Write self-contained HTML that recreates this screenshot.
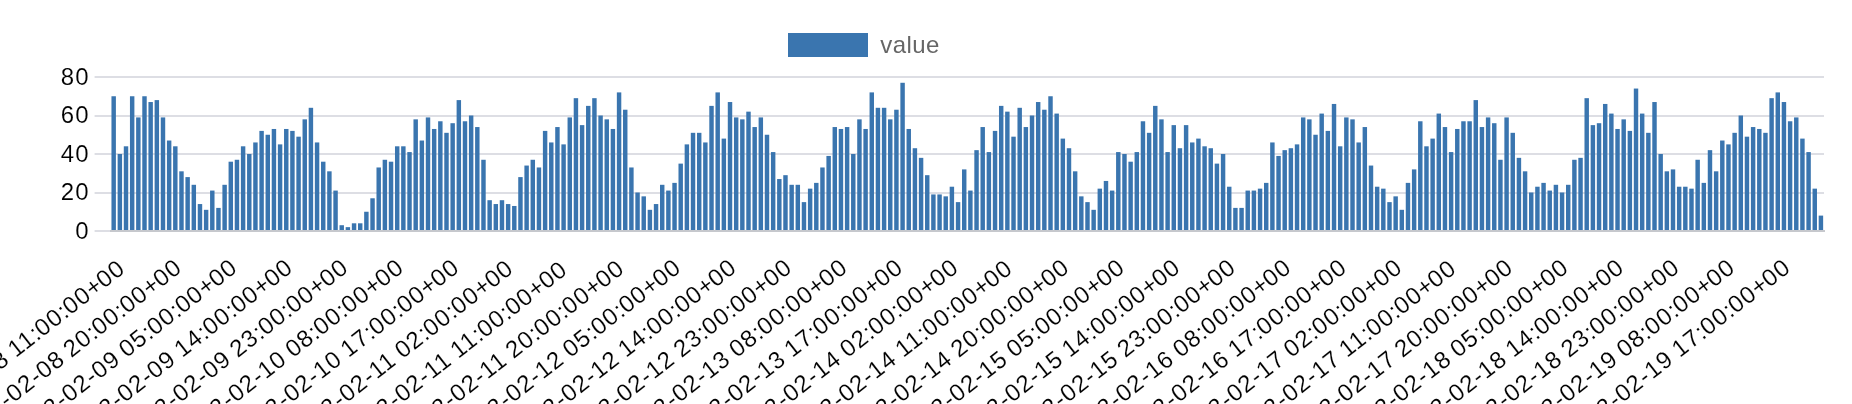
<!DOCTYPE html><html><head><meta charset="utf-8"><title>chart</title><style>html,body{margin:0;padding:0;background:#fff;overflow:hidden}svg{display:block}text{font-family:"Liberation Sans",sans-serif;font-size:24px}svg{will-change:transform;opacity:0.999}.d{letter-spacing:1.0px}.t{stroke:#fff;stroke-width:0.12px}</style></head><body>
<svg width="1852" height="404" viewBox="0 0 1852 404">
<rect width="1852" height="404" fill="#fff"/>
<rect x="94.60" y="76.00" width="1729.40" height="2" fill="#dddee4"/>
<rect x="94.60" y="115.00" width="1729.40" height="2" fill="#dddee4"/>
<rect x="94.60" y="153.00" width="1729.40" height="2" fill="#dddee4"/>
<rect x="94.60" y="192.00" width="1729.40" height="2" fill="#dddee4"/>
<text x="89.50" y="84.90" text-anchor="end" class="d t" fill="#000">80</text>
<text x="89.50" y="123.40" text-anchor="end" class="d t" fill="#000">60</text>
<text x="89.50" y="161.90" text-anchor="end" class="d t" fill="#000">40</text>
<text x="89.50" y="200.40" text-anchor="end" class="d t" fill="#000">20</text>
<text x="89.50" y="238.90" text-anchor="end" class="d t" fill="#000">0</text>
<g fill="#3a75af">
<rect x="111.46" y="96.25" width="4.44" height="134.75"/>
<rect x="117.63" y="154.00" width="4.44" height="77.00"/>
<rect x="123.79" y="146.30" width="4.44" height="84.70"/>
<rect x="129.95" y="96.25" width="4.44" height="134.75"/>
<rect x="136.12" y="117.42" width="4.44" height="113.58"/>
<rect x="142.28" y="96.25" width="4.44" height="134.75"/>
<rect x="148.44" y="102.03" width="4.44" height="128.97"/>
<rect x="154.61" y="100.10" width="4.44" height="130.90"/>
<rect x="160.77" y="117.42" width="4.44" height="113.58"/>
<rect x="166.93" y="140.52" width="4.44" height="90.48"/>
<rect x="173.10" y="146.30" width="4.44" height="84.70"/>
<rect x="179.26" y="171.32" width="4.44" height="59.68"/>
<rect x="185.42" y="177.10" width="4.44" height="53.90"/>
<rect x="191.59" y="184.80" width="4.44" height="46.20"/>
<rect x="197.75" y="204.05" width="4.44" height="26.95"/>
<rect x="203.91" y="209.82" width="4.44" height="21.18"/>
<rect x="210.08" y="190.57" width="4.44" height="40.43"/>
<rect x="216.24" y="207.90" width="4.44" height="23.10"/>
<rect x="222.40" y="184.80" width="4.44" height="46.20"/>
<rect x="228.57" y="161.70" width="4.44" height="69.30"/>
<rect x="234.73" y="159.77" width="4.44" height="71.23"/>
<rect x="240.89" y="146.30" width="4.44" height="84.70"/>
<rect x="247.06" y="154.00" width="4.44" height="77.00"/>
<rect x="253.22" y="142.45" width="4.44" height="88.55"/>
<rect x="259.38" y="130.90" width="4.44" height="100.10"/>
<rect x="265.55" y="134.75" width="4.44" height="96.25"/>
<rect x="271.71" y="128.97" width="4.44" height="102.03"/>
<rect x="277.87" y="144.38" width="4.44" height="86.62"/>
<rect x="284.04" y="128.97" width="4.44" height="102.03"/>
<rect x="290.20" y="130.90" width="4.44" height="100.10"/>
<rect x="296.36" y="136.68" width="4.44" height="94.33"/>
<rect x="302.53" y="119.35" width="4.44" height="111.65"/>
<rect x="308.69" y="107.80" width="4.44" height="123.20"/>
<rect x="314.85" y="142.45" width="4.44" height="88.55"/>
<rect x="321.02" y="161.70" width="4.44" height="69.30"/>
<rect x="327.18" y="171.32" width="4.44" height="59.68"/>
<rect x="333.34" y="190.57" width="4.44" height="40.43"/>
<rect x="339.51" y="225.22" width="4.44" height="5.78"/>
<rect x="345.67" y="227.15" width="4.44" height="3.85"/>
<rect x="351.83" y="223.30" width="4.44" height="7.70"/>
<rect x="358.00" y="223.30" width="4.44" height="7.70"/>
<rect x="364.16" y="211.75" width="4.44" height="19.25"/>
<rect x="370.32" y="198.28" width="4.44" height="32.73"/>
<rect x="376.49" y="167.47" width="4.44" height="63.52"/>
<rect x="382.65" y="159.77" width="4.44" height="71.23"/>
<rect x="388.81" y="161.70" width="4.44" height="69.30"/>
<rect x="394.98" y="146.30" width="4.44" height="84.70"/>
<rect x="401.14" y="146.30" width="4.44" height="84.70"/>
<rect x="407.30" y="152.07" width="4.44" height="78.92"/>
<rect x="413.47" y="119.35" width="4.44" height="111.65"/>
<rect x="419.63" y="140.52" width="4.44" height="90.48"/>
<rect x="425.79" y="117.42" width="4.44" height="113.58"/>
<rect x="431.95" y="128.97" width="4.44" height="102.03"/>
<rect x="438.12" y="121.27" width="4.44" height="109.73"/>
<rect x="444.28" y="132.82" width="4.44" height="98.17"/>
<rect x="450.44" y="123.20" width="4.44" height="107.80"/>
<rect x="456.61" y="100.10" width="4.44" height="130.90"/>
<rect x="462.77" y="121.27" width="4.44" height="109.73"/>
<rect x="468.93" y="115.50" width="4.44" height="115.50"/>
<rect x="475.10" y="127.05" width="4.44" height="103.95"/>
<rect x="481.26" y="159.77" width="4.44" height="71.23"/>
<rect x="487.42" y="200.20" width="4.44" height="30.80"/>
<rect x="493.59" y="204.05" width="4.44" height="26.95"/>
<rect x="499.75" y="200.20" width="4.44" height="30.80"/>
<rect x="505.91" y="204.05" width="4.44" height="26.95"/>
<rect x="512.08" y="205.97" width="4.44" height="25.03"/>
<rect x="518.24" y="177.10" width="4.44" height="53.90"/>
<rect x="524.40" y="165.55" width="4.44" height="65.45"/>
<rect x="530.57" y="159.77" width="4.44" height="71.23"/>
<rect x="536.73" y="167.47" width="4.44" height="63.52"/>
<rect x="542.89" y="130.90" width="4.44" height="100.10"/>
<rect x="549.06" y="142.45" width="4.44" height="88.55"/>
<rect x="555.22" y="127.05" width="4.44" height="103.95"/>
<rect x="561.38" y="144.38" width="4.44" height="86.62"/>
<rect x="567.55" y="117.42" width="4.44" height="113.58"/>
<rect x="573.71" y="98.17" width="4.44" height="132.83"/>
<rect x="579.87" y="125.12" width="4.44" height="105.88"/>
<rect x="586.04" y="105.88" width="4.44" height="125.12"/>
<rect x="592.20" y="98.17" width="4.44" height="132.83"/>
<rect x="598.36" y="115.50" width="4.44" height="115.50"/>
<rect x="604.53" y="119.35" width="4.44" height="111.65"/>
<rect x="610.69" y="128.97" width="4.44" height="102.03"/>
<rect x="616.85" y="92.40" width="4.44" height="138.60"/>
<rect x="623.02" y="109.72" width="4.44" height="121.28"/>
<rect x="629.18" y="167.47" width="4.44" height="63.52"/>
<rect x="635.34" y="192.50" width="4.44" height="38.50"/>
<rect x="641.51" y="196.35" width="4.44" height="34.65"/>
<rect x="647.67" y="209.82" width="4.44" height="21.18"/>
<rect x="653.83" y="204.05" width="4.44" height="26.95"/>
<rect x="660.00" y="184.80" width="4.44" height="46.20"/>
<rect x="666.16" y="190.57" width="4.44" height="40.43"/>
<rect x="672.32" y="182.88" width="4.44" height="48.12"/>
<rect x="678.49" y="163.62" width="4.44" height="67.38"/>
<rect x="684.65" y="144.38" width="4.44" height="86.62"/>
<rect x="690.81" y="132.82" width="4.44" height="98.17"/>
<rect x="696.98" y="132.82" width="4.44" height="98.17"/>
<rect x="703.14" y="142.45" width="4.44" height="88.55"/>
<rect x="709.30" y="105.88" width="4.44" height="125.12"/>
<rect x="715.47" y="92.40" width="4.44" height="138.60"/>
<rect x="721.63" y="138.60" width="4.44" height="92.40"/>
<rect x="727.79" y="102.03" width="4.44" height="128.97"/>
<rect x="733.96" y="117.42" width="4.44" height="113.58"/>
<rect x="740.12" y="119.35" width="4.44" height="111.65"/>
<rect x="746.28" y="111.65" width="4.44" height="119.35"/>
<rect x="752.45" y="127.05" width="4.44" height="103.95"/>
<rect x="758.61" y="117.42" width="4.44" height="113.58"/>
<rect x="764.77" y="134.75" width="4.44" height="96.25"/>
<rect x="770.94" y="152.07" width="4.44" height="78.92"/>
<rect x="777.10" y="179.03" width="4.44" height="51.98"/>
<rect x="783.26" y="175.18" width="4.44" height="55.83"/>
<rect x="789.43" y="184.80" width="4.44" height="46.20"/>
<rect x="795.59" y="184.80" width="4.44" height="46.20"/>
<rect x="801.75" y="202.12" width="4.44" height="28.88"/>
<rect x="807.92" y="188.65" width="4.44" height="42.35"/>
<rect x="814.08" y="182.88" width="4.44" height="48.12"/>
<rect x="820.24" y="167.47" width="4.44" height="63.52"/>
<rect x="826.41" y="155.93" width="4.44" height="75.08"/>
<rect x="832.57" y="127.05" width="4.44" height="103.95"/>
<rect x="838.73" y="128.97" width="4.44" height="102.03"/>
<rect x="844.90" y="127.05" width="4.44" height="103.95"/>
<rect x="851.06" y="154.00" width="4.44" height="77.00"/>
<rect x="857.22" y="119.35" width="4.44" height="111.65"/>
<rect x="863.39" y="128.97" width="4.44" height="102.03"/>
<rect x="869.55" y="92.40" width="4.44" height="138.60"/>
<rect x="875.71" y="107.80" width="4.44" height="123.20"/>
<rect x="881.88" y="107.80" width="4.44" height="123.20"/>
<rect x="888.04" y="119.35" width="4.44" height="111.65"/>
<rect x="894.20" y="109.72" width="4.44" height="121.28"/>
<rect x="900.37" y="82.78" width="4.44" height="148.22"/>
<rect x="906.53" y="128.97" width="4.44" height="102.03"/>
<rect x="912.69" y="148.22" width="4.44" height="82.78"/>
<rect x="918.86" y="157.85" width="4.44" height="73.15"/>
<rect x="925.02" y="175.18" width="4.44" height="55.83"/>
<rect x="931.18" y="194.43" width="4.44" height="36.58"/>
<rect x="937.35" y="194.43" width="4.44" height="36.58"/>
<rect x="943.51" y="196.35" width="4.44" height="34.65"/>
<rect x="949.67" y="186.72" width="4.44" height="44.27"/>
<rect x="955.84" y="202.12" width="4.44" height="28.88"/>
<rect x="962.00" y="169.40" width="4.44" height="61.60"/>
<rect x="968.16" y="190.57" width="4.44" height="40.43"/>
<rect x="974.33" y="150.15" width="4.44" height="80.85"/>
<rect x="980.49" y="127.05" width="4.44" height="103.95"/>
<rect x="986.65" y="152.07" width="4.44" height="78.92"/>
<rect x="992.82" y="130.90" width="4.44" height="100.10"/>
<rect x="998.98" y="105.88" width="4.44" height="125.12"/>
<rect x="1005.14" y="111.65" width="4.44" height="119.35"/>
<rect x="1011.31" y="136.68" width="4.44" height="94.33"/>
<rect x="1017.47" y="107.80" width="4.44" height="123.20"/>
<rect x="1023.63" y="127.05" width="4.44" height="103.95"/>
<rect x="1029.80" y="115.50" width="4.44" height="115.50"/>
<rect x="1035.96" y="102.03" width="4.44" height="128.97"/>
<rect x="1042.12" y="109.72" width="4.44" height="121.28"/>
<rect x="1048.29" y="96.25" width="4.44" height="134.75"/>
<rect x="1054.45" y="113.58" width="4.44" height="117.42"/>
<rect x="1060.61" y="138.60" width="4.44" height="92.40"/>
<rect x="1066.78" y="148.22" width="4.44" height="82.78"/>
<rect x="1072.94" y="171.32" width="4.44" height="59.68"/>
<rect x="1079.10" y="196.35" width="4.44" height="34.65"/>
<rect x="1085.27" y="202.12" width="4.44" height="28.88"/>
<rect x="1091.43" y="209.82" width="4.44" height="21.18"/>
<rect x="1097.59" y="188.65" width="4.44" height="42.35"/>
<rect x="1103.76" y="180.95" width="4.44" height="50.05"/>
<rect x="1109.92" y="190.57" width="4.44" height="40.43"/>
<rect x="1116.08" y="152.07" width="4.44" height="78.92"/>
<rect x="1122.25" y="154.00" width="4.44" height="77.00"/>
<rect x="1128.41" y="161.70" width="4.44" height="69.30"/>
<rect x="1134.57" y="152.07" width="4.44" height="78.92"/>
<rect x="1140.74" y="121.27" width="4.44" height="109.73"/>
<rect x="1146.90" y="132.82" width="4.44" height="98.17"/>
<rect x="1153.06" y="105.88" width="4.44" height="125.12"/>
<rect x="1159.23" y="119.35" width="4.44" height="111.65"/>
<rect x="1165.39" y="152.07" width="4.44" height="78.92"/>
<rect x="1171.55" y="125.12" width="4.44" height="105.88"/>
<rect x="1177.72" y="148.22" width="4.44" height="82.78"/>
<rect x="1183.88" y="125.12" width="4.44" height="105.88"/>
<rect x="1190.04" y="142.45" width="4.44" height="88.55"/>
<rect x="1196.21" y="138.60" width="4.44" height="92.40"/>
<rect x="1202.37" y="146.30" width="4.44" height="84.70"/>
<rect x="1208.53" y="148.22" width="4.44" height="82.78"/>
<rect x="1214.70" y="163.62" width="4.44" height="67.38"/>
<rect x="1220.86" y="154.00" width="4.44" height="77.00"/>
<rect x="1227.02" y="186.72" width="4.44" height="44.27"/>
<rect x="1233.19" y="207.90" width="4.44" height="23.10"/>
<rect x="1239.35" y="207.90" width="4.44" height="23.10"/>
<rect x="1245.51" y="190.57" width="4.44" height="40.43"/>
<rect x="1251.68" y="190.57" width="4.44" height="40.43"/>
<rect x="1257.84" y="188.65" width="4.44" height="42.35"/>
<rect x="1264.00" y="182.88" width="4.44" height="48.12"/>
<rect x="1270.17" y="142.45" width="4.44" height="88.55"/>
<rect x="1276.33" y="155.93" width="4.44" height="75.08"/>
<rect x="1282.49" y="150.15" width="4.44" height="80.85"/>
<rect x="1288.65" y="148.22" width="4.44" height="82.78"/>
<rect x="1294.82" y="144.38" width="4.44" height="86.62"/>
<rect x="1300.98" y="117.42" width="4.44" height="113.58"/>
<rect x="1307.14" y="119.35" width="4.44" height="111.65"/>
<rect x="1313.31" y="134.75" width="4.44" height="96.25"/>
<rect x="1319.47" y="113.58" width="4.44" height="117.42"/>
<rect x="1325.63" y="130.90" width="4.44" height="100.10"/>
<rect x="1331.80" y="103.95" width="4.44" height="127.05"/>
<rect x="1337.96" y="146.30" width="4.44" height="84.70"/>
<rect x="1344.12" y="117.42" width="4.44" height="113.58"/>
<rect x="1350.29" y="119.35" width="4.44" height="111.65"/>
<rect x="1356.45" y="142.45" width="4.44" height="88.55"/>
<rect x="1362.61" y="127.05" width="4.44" height="103.95"/>
<rect x="1368.78" y="165.55" width="4.44" height="65.45"/>
<rect x="1374.94" y="186.72" width="4.44" height="44.27"/>
<rect x="1381.10" y="188.65" width="4.44" height="42.35"/>
<rect x="1387.27" y="202.12" width="4.44" height="28.88"/>
<rect x="1393.43" y="196.35" width="4.44" height="34.65"/>
<rect x="1399.59" y="209.82" width="4.44" height="21.18"/>
<rect x="1405.76" y="182.88" width="4.44" height="48.12"/>
<rect x="1411.92" y="169.40" width="4.44" height="61.60"/>
<rect x="1418.08" y="121.27" width="4.44" height="109.73"/>
<rect x="1424.25" y="146.30" width="4.44" height="84.70"/>
<rect x="1430.41" y="138.60" width="4.44" height="92.40"/>
<rect x="1436.57" y="113.58" width="4.44" height="117.42"/>
<rect x="1442.74" y="127.05" width="4.44" height="103.95"/>
<rect x="1448.90" y="152.07" width="4.44" height="78.92"/>
<rect x="1455.06" y="128.97" width="4.44" height="102.03"/>
<rect x="1461.23" y="121.27" width="4.44" height="109.73"/>
<rect x="1467.39" y="121.27" width="4.44" height="109.73"/>
<rect x="1473.55" y="100.10" width="4.44" height="130.90"/>
<rect x="1479.72" y="127.05" width="4.44" height="103.95"/>
<rect x="1485.88" y="117.42" width="4.44" height="113.58"/>
<rect x="1492.04" y="123.20" width="4.44" height="107.80"/>
<rect x="1498.21" y="159.77" width="4.44" height="71.23"/>
<rect x="1504.37" y="117.42" width="4.44" height="113.58"/>
<rect x="1510.53" y="132.82" width="4.44" height="98.17"/>
<rect x="1516.70" y="157.85" width="4.44" height="73.15"/>
<rect x="1522.86" y="171.32" width="4.44" height="59.68"/>
<rect x="1529.02" y="192.50" width="4.44" height="38.50"/>
<rect x="1535.19" y="186.72" width="4.44" height="44.27"/>
<rect x="1541.35" y="182.88" width="4.44" height="48.12"/>
<rect x="1547.51" y="190.57" width="4.44" height="40.43"/>
<rect x="1553.68" y="184.80" width="4.44" height="46.20"/>
<rect x="1559.84" y="192.50" width="4.44" height="38.50"/>
<rect x="1566.00" y="184.80" width="4.44" height="46.20"/>
<rect x="1572.17" y="159.77" width="4.44" height="71.23"/>
<rect x="1578.33" y="157.85" width="4.44" height="73.15"/>
<rect x="1584.49" y="98.17" width="4.44" height="132.83"/>
<rect x="1590.66" y="125.12" width="4.44" height="105.88"/>
<rect x="1596.82" y="123.20" width="4.44" height="107.80"/>
<rect x="1602.98" y="103.95" width="4.44" height="127.05"/>
<rect x="1609.15" y="113.58" width="4.44" height="117.42"/>
<rect x="1615.31" y="128.97" width="4.44" height="102.03"/>
<rect x="1621.47" y="119.35" width="4.44" height="111.65"/>
<rect x="1627.64" y="130.90" width="4.44" height="100.10"/>
<rect x="1633.80" y="88.55" width="4.44" height="142.45"/>
<rect x="1639.96" y="113.58" width="4.44" height="117.42"/>
<rect x="1646.13" y="132.82" width="4.44" height="98.17"/>
<rect x="1652.29" y="102.03" width="4.44" height="128.97"/>
<rect x="1658.45" y="154.00" width="4.44" height="77.00"/>
<rect x="1664.62" y="171.32" width="4.44" height="59.68"/>
<rect x="1670.78" y="169.40" width="4.44" height="61.60"/>
<rect x="1676.94" y="186.72" width="4.44" height="44.27"/>
<rect x="1683.11" y="186.72" width="4.44" height="44.27"/>
<rect x="1689.27" y="188.65" width="4.44" height="42.35"/>
<rect x="1695.43" y="159.77" width="4.44" height="71.23"/>
<rect x="1701.60" y="182.88" width="4.44" height="48.12"/>
<rect x="1707.76" y="150.15" width="4.44" height="80.85"/>
<rect x="1713.92" y="171.32" width="4.44" height="59.68"/>
<rect x="1720.09" y="140.52" width="4.44" height="90.48"/>
<rect x="1726.25" y="144.38" width="4.44" height="86.62"/>
<rect x="1732.41" y="132.82" width="4.44" height="98.17"/>
<rect x="1738.58" y="115.50" width="4.44" height="115.50"/>
<rect x="1744.74" y="136.68" width="4.44" height="94.33"/>
<rect x="1750.90" y="127.05" width="4.44" height="103.95"/>
<rect x="1757.07" y="128.97" width="4.44" height="102.03"/>
<rect x="1763.23" y="132.82" width="4.44" height="98.17"/>
<rect x="1769.39" y="98.17" width="4.44" height="132.83"/>
<rect x="1775.56" y="92.40" width="4.44" height="138.60"/>
<rect x="1781.72" y="102.03" width="4.44" height="128.97"/>
<rect x="1787.88" y="121.27" width="4.44" height="109.73"/>
<rect x="1794.05" y="117.42" width="4.44" height="113.58"/>
<rect x="1800.21" y="138.60" width="4.44" height="92.40"/>
<rect x="1806.37" y="152.07" width="4.44" height="78.92"/>
<rect x="1812.54" y="188.65" width="4.44" height="42.35"/>
<rect x="1818.70" y="215.60" width="4.44" height="15.40"/>
</g>
<rect x="94.60" y="230" width="16" height="2" fill="#dddee4"/>
<rect x="110.00" y="230" width="1715.00" height="2" fill="#c6c8cd"/>
<rect x="788" y="33" width="80" height="24" fill="#3a75af"/>
<text x="880.3" y="53.2" style="letter-spacing:0.45px;stroke:#fff;stroke-width:0.0px" fill="#666">value</text>
<text transform="translate(127.19,270.86) rotate(-38.1)" x="-280.87" dx="0 1.08 1.08 1.08 1.08 0.90 1.08 1.08 0.90 1.08 1.08 -0.70 1.08 1.08 0.00 1.08 1.08 0.00 1.08 1.08 0.00 1.08" class="t" fill="#000">2022-02-08 11:00:00+00</text>
<text transform="translate(182.66,270.86) rotate(-38.1)" x="-280.87" dx="0 1.08 1.08 1.08 1.08 0.90 1.08 1.08 0.90 1.08 1.08 -0.70 1.08 1.08 0.00 1.08 1.08 0.00 1.08 1.08 0.00 1.08" class="t" fill="#000">2022-02-08 20:00:00+00</text>
<text transform="translate(238.13,270.86) rotate(-38.1)" x="-280.87" dx="0 1.08 1.08 1.08 1.08 0.90 1.08 1.08 0.90 1.08 1.08 -0.70 1.08 1.08 0.00 1.08 1.08 0.00 1.08 1.08 0.00 1.08" class="t" fill="#000">2022-02-09 05:00:00+00</text>
<text transform="translate(293.60,270.86) rotate(-38.1)" x="-280.87" dx="0 1.08 1.08 1.08 1.08 0.90 1.08 1.08 0.90 1.08 1.08 -0.70 1.08 1.08 0.00 1.08 1.08 0.00 1.08 1.08 0.00 1.08" class="t" fill="#000">2022-02-09 14:00:00+00</text>
<text transform="translate(349.07,270.86) rotate(-38.1)" x="-280.87" dx="0 1.08 1.08 1.08 1.08 0.90 1.08 1.08 0.90 1.08 1.08 -0.70 1.08 1.08 0.00 1.08 1.08 0.00 1.08 1.08 0.00 1.08" class="t" fill="#000">2022-02-09 23:00:00+00</text>
<text transform="translate(404.54,270.86) rotate(-38.1)" x="-280.87" dx="0 1.08 1.08 1.08 1.08 0.90 1.08 1.08 0.90 1.08 1.08 -0.70 1.08 1.08 0.00 1.08 1.08 0.00 1.08 1.08 0.00 1.08" class="t" fill="#000">2022-02-10 08:00:00+00</text>
<text transform="translate(460.01,270.86) rotate(-38.1)" x="-280.87" dx="0 1.08 1.08 1.08 1.08 0.90 1.08 1.08 0.90 1.08 1.08 -0.70 1.08 1.08 0.00 1.08 1.08 0.00 1.08 1.08 0.00 1.08" class="t" fill="#000">2022-02-10 17:00:00+00</text>
<text transform="translate(515.48,270.86) rotate(-38.1)" x="-280.87" dx="0 1.08 1.08 1.08 1.08 0.90 1.08 1.08 0.90 1.08 1.08 -0.70 1.08 1.08 0.00 1.08 1.08 0.00 1.08 1.08 0.00 1.08" class="t" fill="#000">2022-02-11 02:00:00+00</text>
<text transform="translate(570.95,270.86) rotate(-38.1)" x="-280.87" dx="0 1.08 1.08 1.08 1.08 0.90 1.08 1.08 0.90 1.08 1.08 -0.70 1.08 1.08 0.00 1.08 1.08 0.00 1.08 1.08 0.00 1.08" class="t" fill="#000">2022-02-11 11:00:00+00</text>
<text transform="translate(626.42,270.86) rotate(-38.1)" x="-280.87" dx="0 1.08 1.08 1.08 1.08 0.90 1.08 1.08 0.90 1.08 1.08 -0.70 1.08 1.08 0.00 1.08 1.08 0.00 1.08 1.08 0.00 1.08" class="t" fill="#000">2022-02-11 20:00:00+00</text>
<text transform="translate(681.89,270.86) rotate(-38.1)" x="-280.87" dx="0 1.08 1.08 1.08 1.08 0.90 1.08 1.08 0.90 1.08 1.08 -0.70 1.08 1.08 0.00 1.08 1.08 0.00 1.08 1.08 0.00 1.08" class="t" fill="#000">2022-02-12 05:00:00+00</text>
<text transform="translate(737.36,270.86) rotate(-38.1)" x="-280.87" dx="0 1.08 1.08 1.08 1.08 0.90 1.08 1.08 0.90 1.08 1.08 -0.70 1.08 1.08 0.00 1.08 1.08 0.00 1.08 1.08 0.00 1.08" class="t" fill="#000">2022-02-12 14:00:00+00</text>
<text transform="translate(792.83,270.86) rotate(-38.1)" x="-280.87" dx="0 1.08 1.08 1.08 1.08 0.90 1.08 1.08 0.90 1.08 1.08 -0.70 1.08 1.08 0.00 1.08 1.08 0.00 1.08 1.08 0.00 1.08" class="t" fill="#000">2022-02-12 23:00:00+00</text>
<text transform="translate(848.30,270.86) rotate(-38.1)" x="-280.87" dx="0 1.08 1.08 1.08 1.08 0.90 1.08 1.08 0.90 1.08 1.08 -0.70 1.08 1.08 0.00 1.08 1.08 0.00 1.08 1.08 0.00 1.08" class="t" fill="#000">2022-02-13 08:00:00+00</text>
<text transform="translate(903.77,270.86) rotate(-38.1)" x="-280.87" dx="0 1.08 1.08 1.08 1.08 0.90 1.08 1.08 0.90 1.08 1.08 -0.70 1.08 1.08 0.00 1.08 1.08 0.00 1.08 1.08 0.00 1.08" class="t" fill="#000">2022-02-13 17:00:00+00</text>
<text transform="translate(959.24,270.86) rotate(-38.1)" x="-280.87" dx="0 1.08 1.08 1.08 1.08 0.90 1.08 1.08 0.90 1.08 1.08 -0.70 1.08 1.08 0.00 1.08 1.08 0.00 1.08 1.08 0.00 1.08" class="t" fill="#000">2022-02-14 02:00:00+00</text>
<text transform="translate(1014.70,270.86) rotate(-38.1)" x="-280.87" dx="0 1.08 1.08 1.08 1.08 0.90 1.08 1.08 0.90 1.08 1.08 -0.70 1.08 1.08 0.00 1.08 1.08 0.00 1.08 1.08 0.00 1.08" class="t" fill="#000">2022-02-14 11:00:00+00</text>
<text transform="translate(1070.17,270.86) rotate(-38.1)" x="-280.87" dx="0 1.08 1.08 1.08 1.08 0.90 1.08 1.08 0.90 1.08 1.08 -0.70 1.08 1.08 0.00 1.08 1.08 0.00 1.08 1.08 0.00 1.08" class="t" fill="#000">2022-02-14 20:00:00+00</text>
<text transform="translate(1125.64,270.86) rotate(-38.1)" x="-280.87" dx="0 1.08 1.08 1.08 1.08 0.90 1.08 1.08 0.90 1.08 1.08 -0.70 1.08 1.08 0.00 1.08 1.08 0.00 1.08 1.08 0.00 1.08" class="t" fill="#000">2022-02-15 05:00:00+00</text>
<text transform="translate(1181.11,270.86) rotate(-38.1)" x="-280.87" dx="0 1.08 1.08 1.08 1.08 0.90 1.08 1.08 0.90 1.08 1.08 -0.70 1.08 1.08 0.00 1.08 1.08 0.00 1.08 1.08 0.00 1.08" class="t" fill="#000">2022-02-15 14:00:00+00</text>
<text transform="translate(1236.58,270.86) rotate(-38.1)" x="-280.87" dx="0 1.08 1.08 1.08 1.08 0.90 1.08 1.08 0.90 1.08 1.08 -0.70 1.08 1.08 0.00 1.08 1.08 0.00 1.08 1.08 0.00 1.08" class="t" fill="#000">2022-02-15 23:00:00+00</text>
<text transform="translate(1292.05,270.86) rotate(-38.1)" x="-280.87" dx="0 1.08 1.08 1.08 1.08 0.90 1.08 1.08 0.90 1.08 1.08 -0.70 1.08 1.08 0.00 1.08 1.08 0.00 1.08 1.08 0.00 1.08" class="t" fill="#000">2022-02-16 08:00:00+00</text>
<text transform="translate(1347.52,270.86) rotate(-38.1)" x="-280.87" dx="0 1.08 1.08 1.08 1.08 0.90 1.08 1.08 0.90 1.08 1.08 -0.70 1.08 1.08 0.00 1.08 1.08 0.00 1.08 1.08 0.00 1.08" class="t" fill="#000">2022-02-16 17:00:00+00</text>
<text transform="translate(1402.99,270.86) rotate(-38.1)" x="-280.87" dx="0 1.08 1.08 1.08 1.08 0.90 1.08 1.08 0.90 1.08 1.08 -0.70 1.08 1.08 0.00 1.08 1.08 0.00 1.08 1.08 0.00 1.08" class="t" fill="#000">2022-02-17 02:00:00+00</text>
<text transform="translate(1458.46,270.86) rotate(-38.1)" x="-280.87" dx="0 1.08 1.08 1.08 1.08 0.90 1.08 1.08 0.90 1.08 1.08 -0.70 1.08 1.08 0.00 1.08 1.08 0.00 1.08 1.08 0.00 1.08" class="t" fill="#000">2022-02-17 11:00:00+00</text>
<text transform="translate(1513.93,270.86) rotate(-38.1)" x="-280.87" dx="0 1.08 1.08 1.08 1.08 0.90 1.08 1.08 0.90 1.08 1.08 -0.70 1.08 1.08 0.00 1.08 1.08 0.00 1.08 1.08 0.00 1.08" class="t" fill="#000">2022-02-17 20:00:00+00</text>
<text transform="translate(1569.40,270.86) rotate(-38.1)" x="-280.87" dx="0 1.08 1.08 1.08 1.08 0.90 1.08 1.08 0.90 1.08 1.08 -0.70 1.08 1.08 0.00 1.08 1.08 0.00 1.08 1.08 0.00 1.08" class="t" fill="#000">2022-02-18 05:00:00+00</text>
<text transform="translate(1624.87,270.86) rotate(-38.1)" x="-280.87" dx="0 1.08 1.08 1.08 1.08 0.90 1.08 1.08 0.90 1.08 1.08 -0.70 1.08 1.08 0.00 1.08 1.08 0.00 1.08 1.08 0.00 1.08" class="t" fill="#000">2022-02-18 14:00:00+00</text>
<text transform="translate(1680.34,270.86) rotate(-38.1)" x="-280.87" dx="0 1.08 1.08 1.08 1.08 0.90 1.08 1.08 0.90 1.08 1.08 -0.70 1.08 1.08 0.00 1.08 1.08 0.00 1.08 1.08 0.00 1.08" class="t" fill="#000">2022-02-18 23:00:00+00</text>
<text transform="translate(1735.81,270.86) rotate(-38.1)" x="-280.87" dx="0 1.08 1.08 1.08 1.08 0.90 1.08 1.08 0.90 1.08 1.08 -0.70 1.08 1.08 0.00 1.08 1.08 0.00 1.08 1.08 0.00 1.08" class="t" fill="#000">2022-02-19 08:00:00+00</text>
<text transform="translate(1791.28,270.86) rotate(-38.1)" x="-280.87" dx="0 1.08 1.08 1.08 1.08 0.90 1.08 1.08 0.90 1.08 1.08 -0.70 1.08 1.08 0.00 1.08 1.08 0.00 1.08 1.08 0.00 1.08" class="t" fill="#000">2022-02-19 17:00:00+00</text>
</svg></body></html>
